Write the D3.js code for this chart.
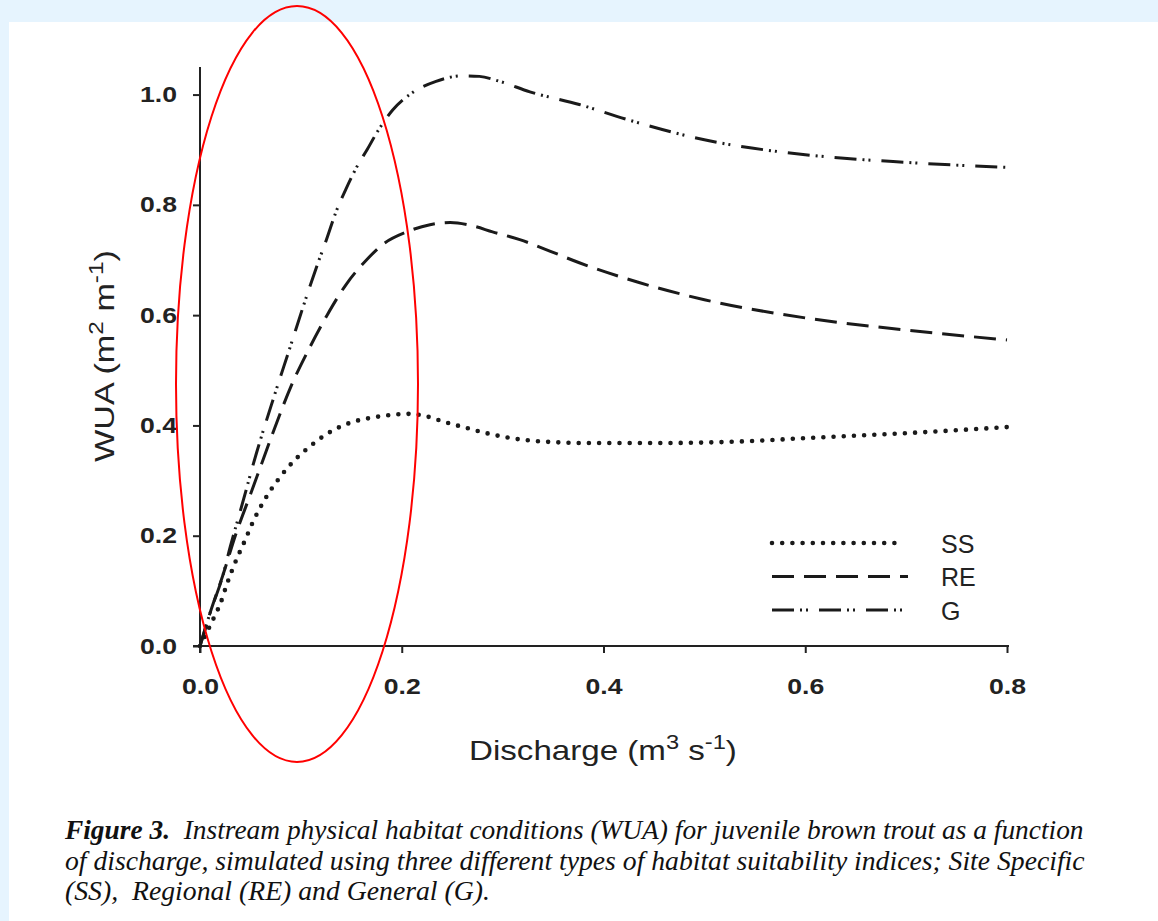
<!DOCTYPE html>
<html lang="en">
<head>
    <meta charset="UTF-8">
    <title>WUA vs discharge</title>
    <script src="https://d3js.org/d3.v7.min.js"></script>
    <style>
        body { margin: 0; background: #e6f4fe; }
        svg { display: block; }
        .tick text { font-family: "Liberation Sans", Arial, sans-serif; font-weight: bold; font-size: 22px; fill: #222; }
        .title { font-family: "Liberation Sans", Arial, sans-serif; font-size: 28px; fill: #222; }
        .legend-label { font-family: "Liberation Sans", Arial, sans-serif; font-size: 25px; fill: #222; }
        .caption { font-family: "Liberation Serif", "Times New Roman", serif; font-style: italic; font-size: 27px; fill: #111; }
    </style>
</head>
<body>
<svg id="chart" width="1158" height="921"></svg>
<script>
    // ---- data ----
    const seriesNames = ["SS", "RE", "G"];

    const qSS   = [0, 0.015, 0.02, 0.027, 0.035, 0.044, 0.053, 0.064, 0.078, 0.096, 0.107, 0.127, 0.149, 0.17, 0.19, 0.205, 0.221, 0.243, 0.263, 0.284, 0.305, 0.347, 0.388, 0.45, 0.5, 0.55, 0.6, 0.7, 0.8];
    const wuaSS = [0, 0.056, 0.076, 0.114, 0.152, 0.189, 0.227, 0.265, 0.303, 0.341, 0.359, 0.386, 0.405, 0.414, 0.419, 0.421, 0.418, 0.406, 0.396, 0.386, 0.378, 0.370, 0.368, 0.368, 0.369, 0.372, 0.377, 0.386, 0.397];

    const qRE   = [0, 0.01, 0.023, 0.035, 0.05, 0.061, 0.075, 0.09, 0.107, 0.126, 0.145, 0.165, 0.181, 0.205, 0.228, 0.248, 0.27, 0.29, 0.317, 0.343, 0.376, 0.416, 0.5, 0.6, 0.7, 0.8];
    const wuaRE = [0, 0.06, 0.13, 0.2, 0.275, 0.33, 0.4, 0.47, 0.535, 0.6, 0.656, 0.7, 0.728, 0.751, 0.764, 0.768, 0.762, 0.751, 0.737, 0.719, 0.695, 0.67, 0.628, 0.595, 0.573, 0.555];

    const qG    = [0, 0.01, 0.023, 0.03, 0.04, 0.056, 0.073, 0.089, 0.104, 0.117, 0.124, 0.135, 0.145, 0.157, 0.165, 0.176, 0.191, 0.211, 0.234, 0.26, 0.277, 0.297, 0.327, 0.376, 0.423, 0.5, 0.6, 0.7, 0.8];
    const wuaG  = [0, 0.06, 0.13, 0.18, 0.245, 0.35, 0.45, 0.54, 0.625, 0.695, 0.73, 0.788, 0.83, 0.874, 0.898, 0.933, 0.972, 1.004, 1.024, 1.034, 1.033, 1.024, 1.005, 0.982, 0.955, 0.918, 0.891, 0.877, 0.868];

    const xTicks = [0, 0.2, 0.4, 0.6, 0.8];
    const yTicks = [0, 0.2, 0.4, 0.6, 0.8, 1.0];

    const captionLines = [
        [["Figure 3.", "bold"], ["  Instream physical habitat conditions (WUA) for juvenile brown trout as a function", "normal"]],
        [["of discharge, simulated using three different types of habitat suitability indices; Site Specific", "normal"]],
        [["(SS),  Regional (RE) and General (G).", "normal"]]
    ];

    // ---- styles per series ----
    const lineStyle = {
        SS: { dash: "0 10.2", cap: "round", width: 4.6 },
        RE: { dash: "22 10", cap: "butt", width: 3 },
        G:  { dash: "22 6 2 4 2 11", cap: "butt", width: 3 }
    };

    const svg = d3.select("#chart");
    svg.append("rect").attr("x", 9).attr("y", 22).attr("width", 1149).attr("height", 899).attr("fill", "#fff");

    // ---- scales ----
    const x = d3.scaleLinear().domain([0, 0.8]).range([200, 1007]);
    const y = d3.scaleLinear().domain([0, 1.05]).range([646, 67]);

    // horizontal factor that brings a text block to a target width
    function stretch(el, target) {
        const w = el.node().getBBox().width;
        return target / w;
    }

    // ---- axes ----
    const yAxis = svg.append("g")
        .attr("transform", `translate(${x(0)},0)`)
        .call(d3.axisLeft(y).tickValues(yTicks).tickFormat(d3.format(".1f")).tickSize(7).tickPadding(16));
    const xAxis = svg.append("g")
        .attr("transform", `translate(0,${y(0)})`)
        .call(d3.axisBottom(x).tickValues(xTicks).tickFormat(d3.format(".1f")).tickSize(7).tickPadding(25));

    [yAxis, xAxis].forEach(a => {
        a.select(".domain").remove();
        a.selectAll(".tick line").attr("stroke", "#222").attr("stroke-width", 2);
        a.selectAll(".tick text").attr("textLength", 37).attr("lengthAdjust", "spacingAndGlyphs");
    });

    svg.append("line")
        .attr("x1", x(0)).attr("x2", x(0))
        .attr("y1", y(1.05)).attr("y2", y(0) + 7)
        .attr("stroke", "#222").attr("stroke-width", 2);
    svg.append("line")
        .attr("x1", x(0) - 7).attr("x2", x(0.8) + 2)
        .attr("y1", y(0)).attr("y2", y(0))
        .attr("stroke", "#222").attr("stroke-width", 2);

    // ---- axis titles ----
    const xt = svg.append("g");
    const xText = xt.append("text").attr("class", "title");
    xText.append("tspan").text("Discharge (m");
    xText.append("tspan").attr("baseline-shift", "super").attr("font-size", "20px").text("3");
    xText.append("tspan").text(" s");
    xText.append("tspan").attr("baseline-shift", "super").attr("font-size", "20px").text("-1");
    xText.append("tspan").text(")");
    xt.attr("transform", `translate(469,760) scale(${stretch(xText, 268)},1)`);

    const yt = svg.append("g");
    const yText = yt.append("text").attr("class", "title").attr("text-anchor", "middle");
    yText.append("tspan").text("WUA (m");
    yText.append("tspan").attr("baseline-shift", "super").attr("font-size", "20px").text("2");
    yText.append("tspan").text(" m");
    yText.append("tspan").attr("baseline-shift", "super").attr("font-size", "20px").text("-1");
    yText.append("tspan").text(")");
    yt.attr("transform", `translate(114,356) rotate(-90) scale(${stretch(yText, 212)},1)`);

    // ---- lines ----
    const line = d3.line().x(d => x(d[0])).y(d => y(d[1])).curve(d3.curveMonotoneX);
    const series = [
        { name: "SS", pts: d3.zip(qSS, wuaSS) },
        { name: "RE", pts: d3.zip(qRE, wuaRE) },
        { name: "G",  pts: d3.zip(qG, wuaG) }
    ];

    svg.append("g").selectAll("path")
        .data(series)
        .enter()
        .append("path")
        .attr("d", d => line(d.pts))
        .attr("fill", "none")
        .attr("stroke", "#1a1a1a")
        .attr("stroke-width", d => lineStyle[d.name].width)
        .attr("stroke-linecap", d => lineStyle[d.name].cap)
        .attr("stroke-dasharray", d => lineStyle[d.name].dash);

    // ---- legend ----
    const legend = svg.append("g").attr("transform", "translate(772,543)");
    seriesNames.forEach((name, i) => {
        const row = legend.append("g").attr("transform", `translate(0,${i * 33.5})`);
        row.append("line")
            .attr("x1", 0).attr("x2", name === "RE" ? 136 : 132)
            .attr("stroke", "#1a1a1a")
            .attr("stroke-width", lineStyle[name].width)
            .attr("stroke-linecap", lineStyle[name].cap)
            .attr("stroke-dasharray", lineStyle[name].dash);
        row.append("text")
            .attr("class", "legend-label")
            .attr("x", 169).attr("y", 9.5)
            .text(name);
    });

    // ---- red ellipse annotation ----
    svg.append("ellipse")
        .attr("cx", 297).attr("cy", 384)
        .attr("rx", 121).attr("ry", 378)
        .attr("fill", "none")
        .attr("stroke", "#f00")
        .attr("stroke-width", 2);

    // ---- caption ----
    const capWidths = [1020, 1020, 425];
    captionLines.forEach((parts, i) => {
        const g = svg.append("g");
        const t = g.append("text").attr("class", "caption").attr("xml:space", "preserve");
        parts.forEach(p => t.append("tspan").attr("font-weight", p[1]).text(p[0]));
        g.attr("transform", `translate(65,${839 + i * 30.5}) scale(${stretch(t, capWidths[i])},1)`);
    });
</script>
</body>
</html>
